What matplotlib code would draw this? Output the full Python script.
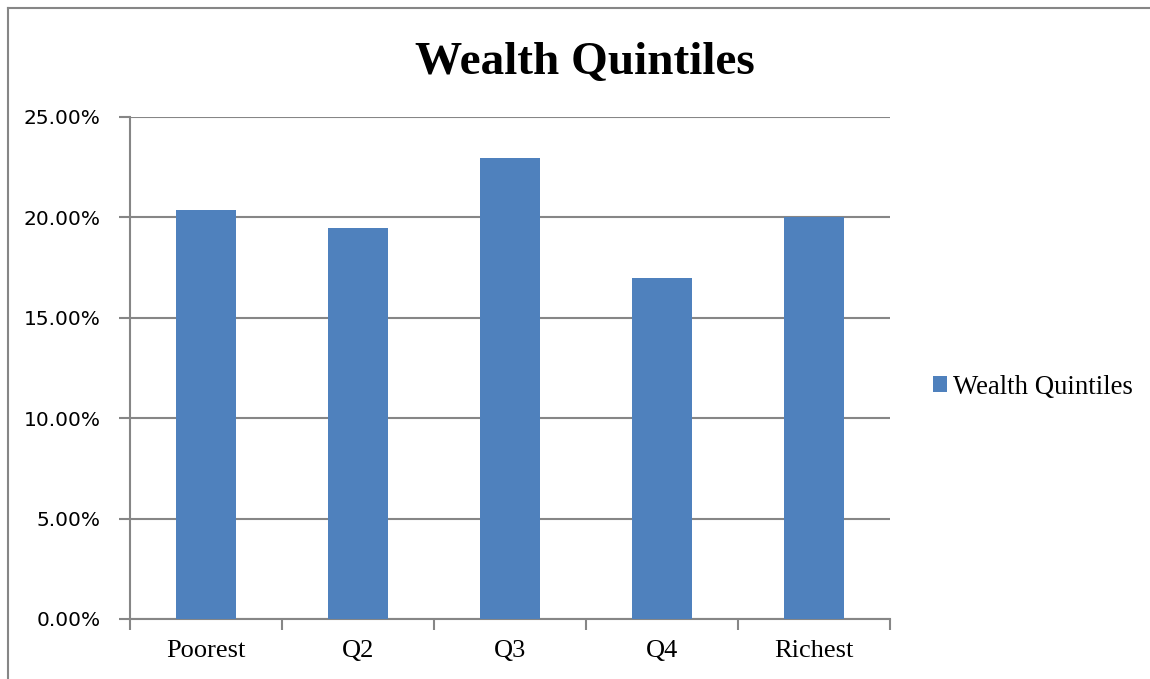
import numpy as np
import matplotlib
matplotlib.use("Agg")
import matplotlib.pyplot as plt
from matplotlib.ticker import FuncFormatter

categories = ["Poorest", "Q2", "Q3", "Q4", "Richest"]
shares = [0.2037, 0.1948, 0.2296, 0.1698, 0.2002]
yticks = [0.0, 0.05, 0.10, 0.15, 0.20, 0.25]

bar_color = "#4F81BD"
grid_color = "#868686"

fig = plt.figure(figsize=(11.5, 6.79), dpi=100)
ax = fig.add_axes([0.11304, 0.08837, 0.66087, 0.73932])

x = np.arange(len(categories))
bars = ax.bar(x, shares, width=0.4, color=bar_color, label="Wealth Quintiles", zorder=3)

ax.set_xlim(-0.5, len(categories) - 0.5)
ax.set_ylim(0, 0.25)
ax.set_yticks(yticks)
ax.yaxis.set_major_formatter(FuncFormatter(lambda v, p: f"{v*100:.2f}%"))
ax.set_xticks(x)
ax.set_xticklabels(categories, fontfamily="Liberation Serif", fontsize=19)
for lab in ax.get_yticklabels():
    lab.set_fontfamily("DejaVu Sans")
    lab.set_fontsize(14.5)

# category boundary ticks
ax.set_xticks(np.arange(len(categories) + 1) - 0.5, minor=True)
ax.tick_params(axis="x", which="major", length=0, pad=15)
ax.tick_params(axis="x", which="minor", length=8, width=1.5, color=grid_color, direction="out")
ax.tick_params(axis="y", length=8, width=1.5, color=grid_color, pad=13)

ax.yaxis.grid(True, color=grid_color, linewidth=1.5, zorder=0)
for side in ["top", "right"]:
    ax.spines[side].set_visible(False)
for side in ["left", "bottom"]:
    ax.spines[side].set_color(grid_color)
    ax.spines[side].set_linewidth(1.5)

fig.text(0.5087, 0.907, "Wealth Quintiles", ha="center", va="center",
         fontfamily="Liberation Serif", fontweight="bold", fontsize=34)

ax.legend(loc="center left", bbox_to_anchor=(1.025, 0.462), frameon=False,
          prop={"family": "Liberation Serif", "size": 19.3},
          handlelength=0.53, handleheight=0.53, handletextpad=0.2)

# outer chart border (top and left visible)
fig.add_artist(plt.Line2D([8/1150, 1], [1 - 8/679, 1 - 8/679], color=grid_color, linewidth=1.5,
                          transform=fig.transFigure))
fig.add_artist(plt.Line2D([8/1150, 8/1150], [0, 1 - 8/679], color=grid_color, linewidth=1.5,
                          transform=fig.transFigure))

fig.savefig("out.png", dpi=100)
